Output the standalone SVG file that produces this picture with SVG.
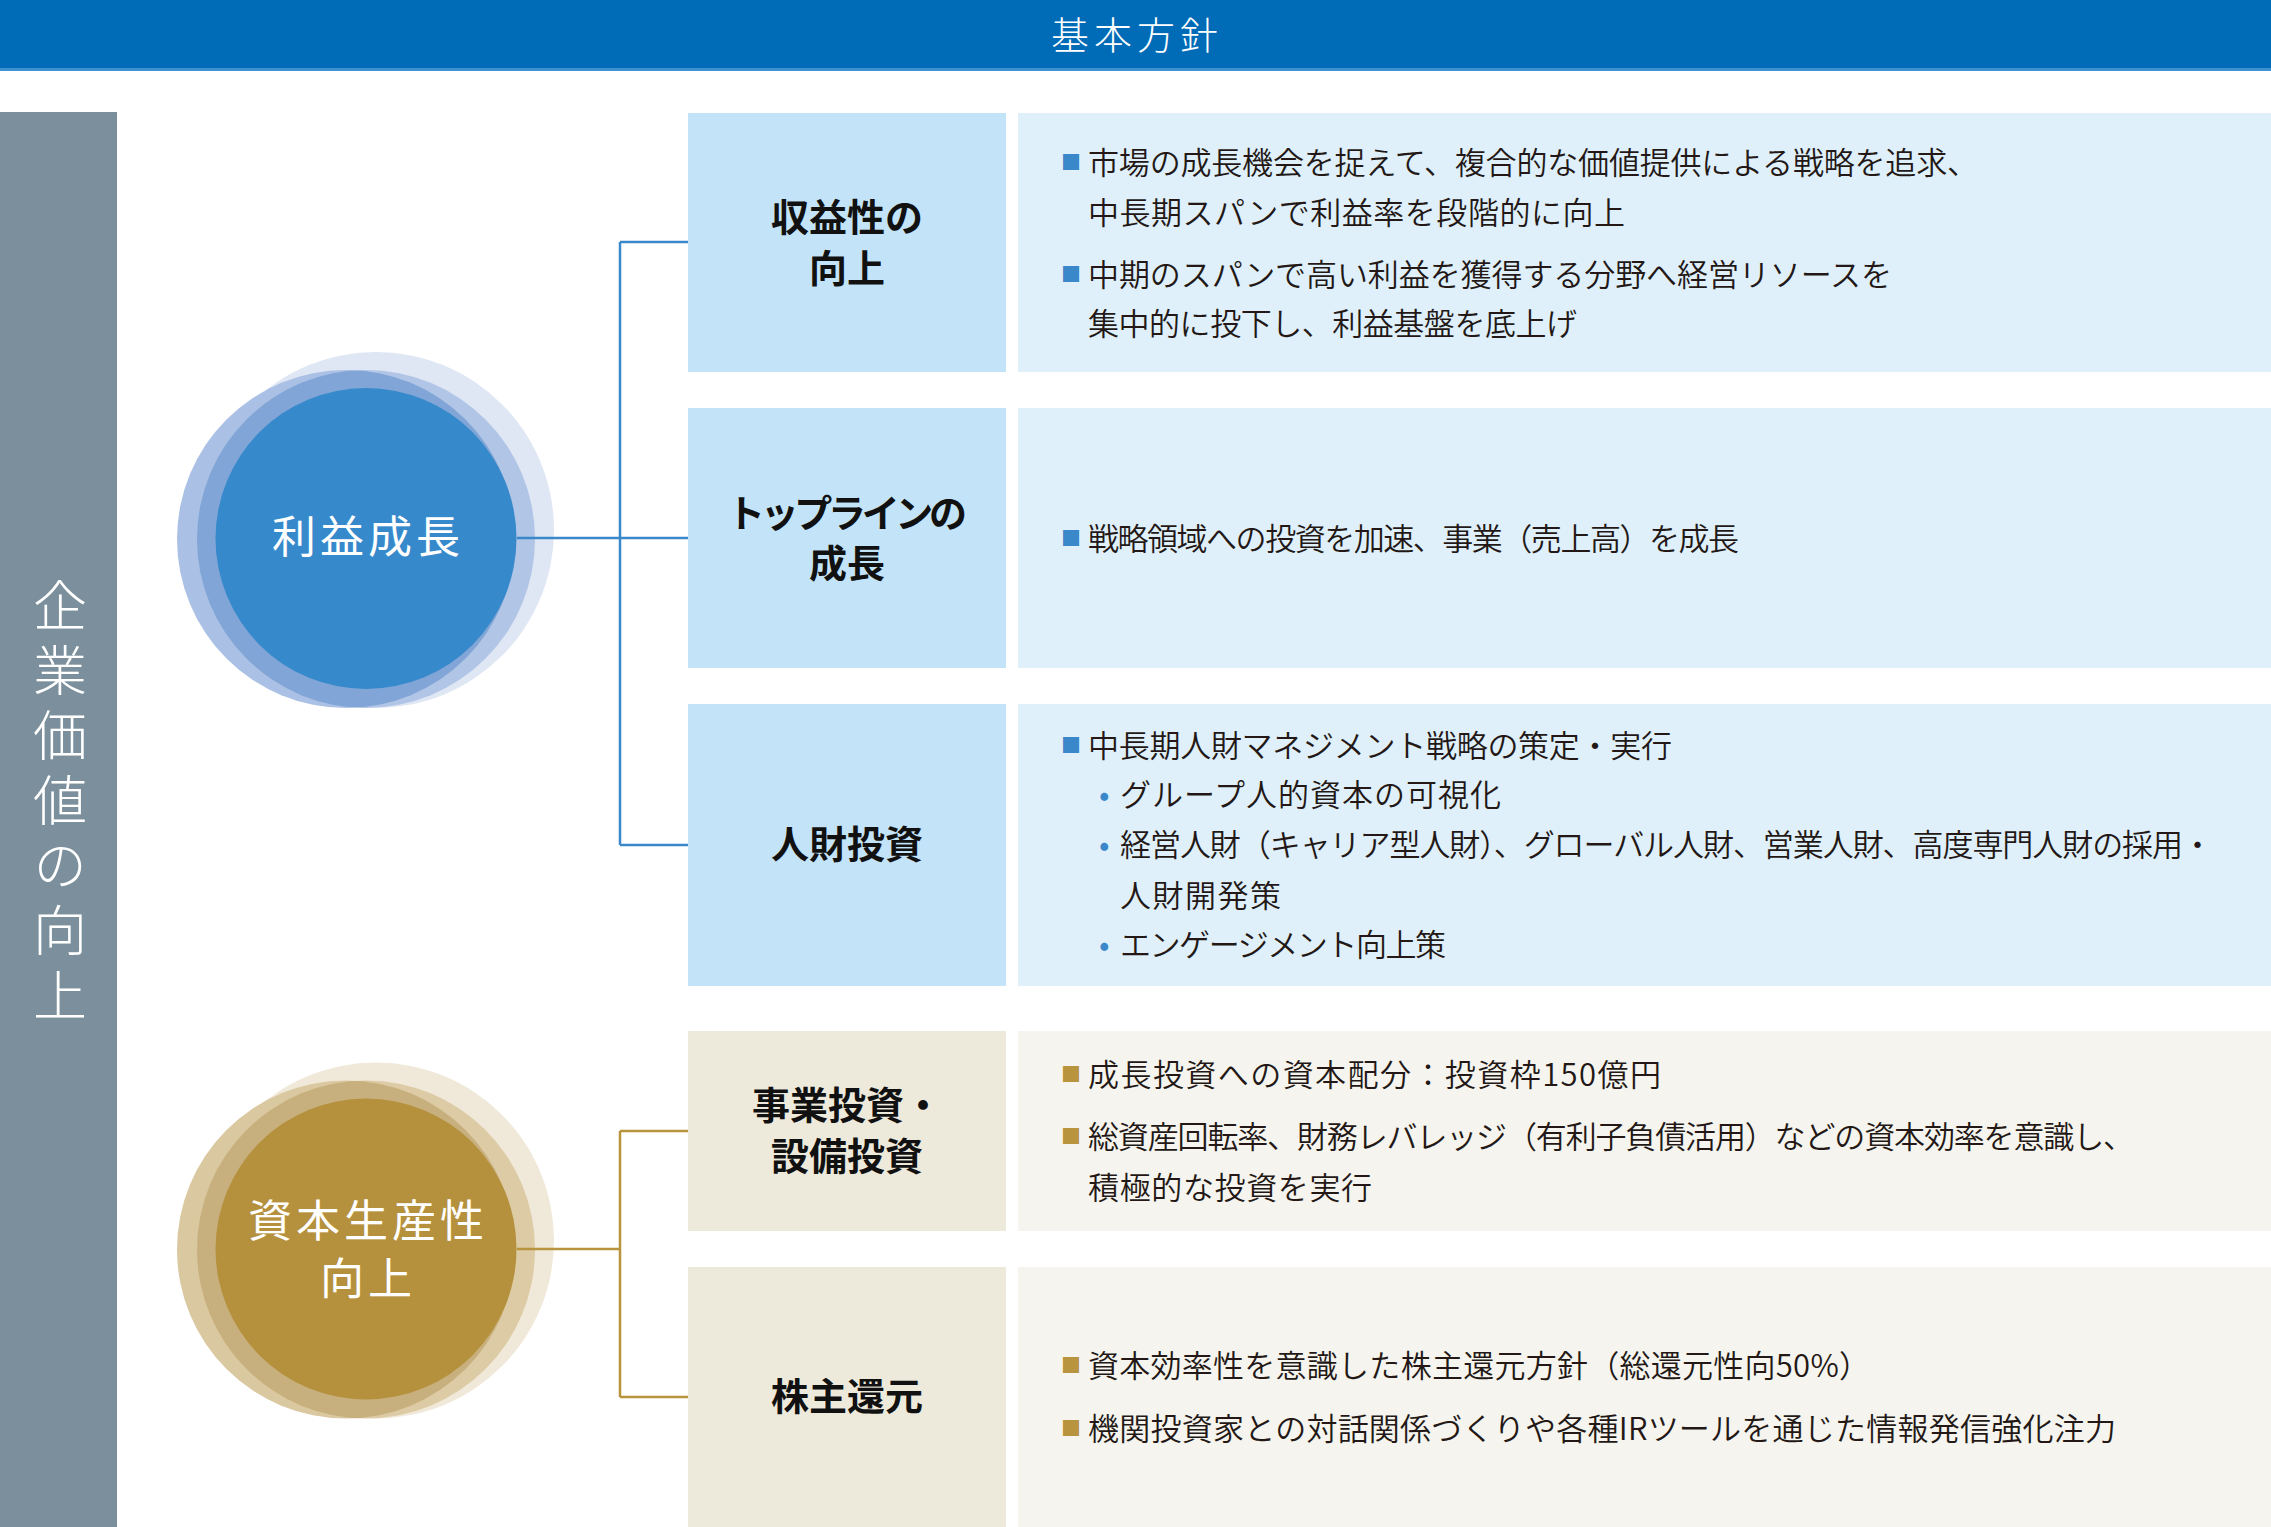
<svg xmlns="http://www.w3.org/2000/svg" width="2271" height="1527" viewBox="0 0 2271 1527">
<defs>
<style>
.jp{font-family:"Noto Sans CJK JP","Noto Sans CJK SC","Noto Sans",sans-serif;}
.body{font-size:31px;fill:#231815;font-weight:350;}
.dotb{font-size:31px;fill:#3a87c9;font-weight:400;}
.lbl{font-size:38px;fill:#111;font-weight:700;text-anchor:middle;}
.mkb{font-size:20px;fill:#3a87c9;}
.mkg{font-size:20px;fill:#b8943f;}
.wt{fill:#fff;font-weight:300;}
.wc{fill:#fff;font-weight:400;font-size:44px;letter-spacing:4px;text-anchor:middle;}
.cb1{fill:#c3e4f8;}
.cb2{fill:#dff0fb;}
.cg1{fill:#edeadc;}
.cg2{fill:#f5f4ee;}
.lnb{stroke:#3a87c9;stroke-width:2.5;fill:none;}
.lng{stroke:#b8943f;stroke-width:2.5;fill:none;}
</style>
<clipPath id="clipB1"><circle cx="346" cy="539" r="169"/></clipPath>
<clipPath id="clipG1"><circle cx="346" cy="1249.5" r="169"/></clipPath>
</defs>
<rect x="0" y="0" width="2271" height="1527" fill="#fff"/>

<g id="header">
<rect x="0" y="0" width="2271" height="70" fill="#006bb6"/>
<rect x="0" y="68" width="2271" height="3" fill="#3f92d2"/>
<text class="jp wt" x="1137" y="49" font-size="38" letter-spacing="5" text-anchor="middle">基本方針</text>
</g>

<g id="side-bar">
<rect x="0" y="112" width="117" height="1415" fill="#7b909c"/>
<text class="jp wt" x="60" y="578" font-size="54" letter-spacing="11" writing-mode="vertical-rl">企業価値の向上</text>
</g>

<g id="circle-profit">
<circle cx="376" cy="530" r="178" fill="#dfe6f4"/>
<circle cx="366" cy="539" r="169" fill="#b1c5e6"/>
<circle cx="346" cy="539" r="169" fill="#aac0e4"/>
<circle cx="366" cy="539" r="169" fill="#80a5d6" clip-path="url(#clipB1)"/>
<circle cx="366" cy="538.5" r="150.5" fill="#3689cb"/>
<text class="jp wc" x="368" y="553">利益成長</text>
</g>

<g id="circle-capital">
<circle cx="376" cy="1240.5" r="178" fill="#f0e9d9"/>
<circle cx="366" cy="1249.5" r="169" fill="#ddcba5"/>
<circle cx="346" cy="1249.5" r="169" fill="#dac8a0"/>
<circle cx="366" cy="1249.5" r="169" fill="#c8b07e" clip-path="url(#clipG1)"/>
<circle cx="366" cy="1249" r="150.5" fill="#b5913d"/>
<text class="jp wc"><tspan x="368" y="1237">資本生産性</tspan><tspan x="368" y="1295">向上</tspan></text>
</g>

<g id="connectors">
<path class="lnb" d="M517 538 H620 M620 242 V845 M620 242 H688 M620 538 H688 M620 845 H688"/>
<path class="lng" d="M517 1249 H620 M620 1131 V1397 M620 1131 H688 M620 1397 H688"/>
</g>

<g id="row-profitability">
<rect class="cb1" x="688" y="113" width="318" height="259"/>
<rect class="cb2" x="1018" y="113" width="1253" height="259"/>
<text class="jp lbl"><tspan x="847" y="231">収益性の</tspan><tspan x="847" y="282">向上</tspan></text>
<text class="jp mkb" x="1061" y="170">■</text>
<text class="jp body" x="1088" y="174" textLength="890" lengthAdjust="spacing">市場の成長機会を捉えて、複合的な価値提供による戦略を追求、</text>
<text class="jp body" x="1088" y="224" textLength="537" lengthAdjust="spacing">中長期スパンで利益率を段階的に向上</text>
<text class="jp mkb" x="1061" y="282">■</text>
<text class="jp body" x="1088" y="286" textLength="804" lengthAdjust="spacing">中期のスパンで高い利益を獲得する分野へ経営リソースを</text>
<text class="jp body" x="1088" y="335" textLength="489" lengthAdjust="spacing">集中的に投下し、利益基盤を底上げ</text>
</g>

<g id="row-topline">
<rect class="cb1" x="688" y="408" width="318" height="260"/>
<rect class="cb2" x="1018" y="408" width="1253" height="260"/>
<text class="jp lbl"><tspan x="847" y="527" textLength="240" lengthAdjust="spacing">トップラインの</tspan><tspan x="847" y="577">成長</tspan></text>
<text class="jp mkb" x="1061" y="546">■</text>
<text class="jp body" x="1088" y="550" textLength="651" lengthAdjust="spacing">戦略領域への投資を加速、事業（売上高）を成長</text>
</g>

<g id="row-hr">
<rect class="cb1" x="688" y="704" width="318" height="282"/>
<rect class="cb2" x="1018" y="704" width="1253" height="282"/>
<text class="jp lbl" x="847" y="858">人財投資</text>
<text class="jp mkb" x="1061" y="753">■</text>
<text class="jp body" x="1088" y="757" textLength="584" lengthAdjust="spacing">中長期人財マネジメント戦略の策定・実行</text>
<text class="jp dotb" x="1099" y="806">•</text>
<text class="jp body" x="1120" y="806" textLength="381" lengthAdjust="spacing">グループ人的資本の可視化</text>
<text class="jp dotb" x="1099" y="856">•</text>
<text class="jp body" x="1120" y="856" textLength="1093" lengthAdjust="spacing">経営人財（キャリア型人財）、グローバル人財、営業人財、高度専門人財の採用・</text>
<text class="jp body" x="1120" y="907" textLength="161" lengthAdjust="spacing">人財開発策</text>
<text class="jp dotb" x="1099" y="956">•</text>
<text class="jp body" x="1120" y="956" textLength="326" lengthAdjust="spacing">エンゲージメント向上策</text>
</g>

<g id="row-investment">
<rect class="cg1" x="688" y="1031" width="318" height="200"/>
<rect class="cg2" x="1018" y="1031" width="1253" height="200"/>
<text class="jp lbl"><tspan x="847" y="1119">事業投資・</tspan><tspan x="847" y="1170">設備投資</tspan></text>
<text class="jp mkg" x="1061" y="1082">■</text>
<text class="jp body" x="1088" y="1086" textLength="573" lengthAdjust="spacing">成長投資への資本配分：投資枠150億円</text>
<text class="jp mkg" x="1061" y="1144">■</text>
<text class="jp body" x="1088" y="1148" textLength="1046" lengthAdjust="spacing">総資産回転率、財務レバレッジ（有利子負債活用）などの資本効率を意識し、</text>
<text class="jp body" x="1088" y="1199" textLength="284" lengthAdjust="spacing">積極的な投資を実行</text>
</g>

<g id="row-return">
<rect class="cg1" x="688" y="1267" width="318" height="260"/>
<rect class="cg2" x="1018" y="1267" width="1253" height="260"/>
<text class="jp lbl" x="847" y="1410">株主還元</text>
<text class="jp mkg" x="1061" y="1373">■</text>
<text class="jp body" x="1088" y="1377" textLength="782" lengthAdjust="spacing">資本効率性を意識した株主還元方針（総還元性向50%）</text>
<text class="jp mkg" x="1061" y="1436">■</text>
<text class="jp body" x="1088" y="1440" textLength="1028" lengthAdjust="spacing">機関投資家との対話関係づくりや各種IRツールを通じた情報発信強化注力</text>
</g>
</svg>
